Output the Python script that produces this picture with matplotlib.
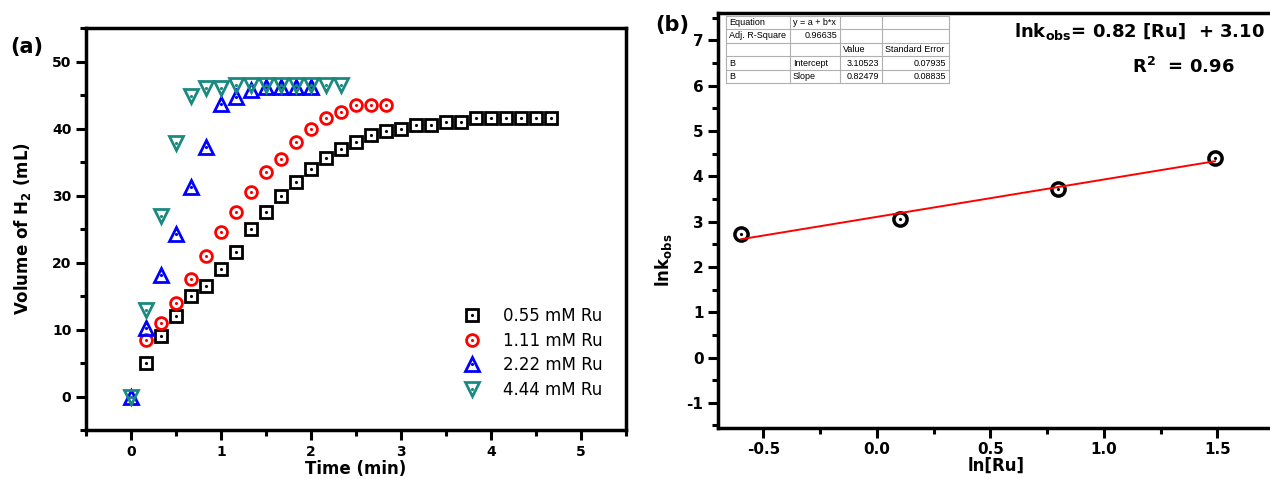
import numpy as np
import matplotlib
matplotlib.use('Agg')
import matplotlib.pyplot as plt
from matplotlib.ticker import MultipleLocator
from matplotlib.lines import Line2D

plt.rcParams['font.family'] = ['DejaVu Sans']
plt.rcParams['font.weight'] = 'bold'
plt.rcParams['axes.unicode_minus'] = False

# (a) H2 evolution, time step is 10 s
step = 1 / 6
t_055 = np.arange(1, 29) * step
v_055 = [5.0, 9.0, 12.0, 15.0, 16.5, 19.0, 21.5, 25.0, 27.5, 30.0, 32.0, 34.0, 35.6, 37.0,
         38.0, 39.0, 39.6, 40.0, 40.5, 40.5, 41.0, 41.0, 41.5, 41.5, 41.5, 41.5, 41.5, 41.5]
t_111 = np.arange(1, 18) * step
v_111 = [8.5, 11.0, 14.0, 17.5, 21.0, 24.5, 27.5, 30.5, 33.5, 35.5, 38.0, 40.0, 41.5, 42.5,
         43.5, 43.5, 43.5]
t_222 = np.arange(0, 13) * step
v_222 = [0.0, 10.2, 18.2, 24.2, 31.2, 37.2, 43.7, 44.7, 45.7, 46.2, 46.2, 46.2, 46.2]
t_444 = np.arange(0, 15) * step
v_444 = [0.0, 12.9, 26.9, 37.9, 44.9, 46.0, 46.0, 46.5, 46.5, 46.5, 46.5, 46.5, 46.5, 46.5, 46.5]

# (b) ln k_obs vs ln[Ru]
ln_ru = [-0.598, 0.104, 0.798, 1.49]
ln_k = [2.72, 3.055, 3.716, 4.405]
intercept = 3.10523
slope = 0.82479

table_rows = [
    ['Equation', 'y = a + b*x', '', ''],
    ['Adj. R-Square', '0.96635', '', ''],
    ['', '', 'Value', 'Standard Error'],
    ['B', 'Intercept', '3.10523', '0.07935'],
    ['B', 'Slope', '0.82479', '0.08835'],
]

W, H = 1270, 479
fig = plt.figure(figsize=(W / 100, H / 100), dpi=100)


def fx(px):
    return px / W


def fy(py):
    return 1 - py / H


def style_axes(ax, size):
    for s in ax.spines.values():
        s.set_linewidth(2.5)
    ax.tick_params(which='major', direction='out', length=7, width=2.2, labelsize=size)
    ax.tick_params(which='minor', direction='out', length=4, width=2.2)
    for lab in ax.get_xticklabels() + ax.get_yticklabels():
        lab.set_fontweight('bold')


# ---------- panel (a) ----------
ax1 = fig.add_axes([fx(86), fy(430), fx(626 - 86), (430 - 28) / H])
series = [
    (t_055, v_055, 's', 'black', 8, '0.55 mM Ru'),
    (t_111, v_111, 'o', 'red', 8.5, '1.11 mM Ru'),
    (t_222, v_222, '^', 'blue', 10, '2.22 mM Ru'),
    (t_444, v_444, 'v', '#1a8a80', 10, '4.44 mM Ru'),
]
handles = []
for t, v, m, c, ms, lab in series:
    h1, = ax1.plot(t, v, m, ms=ms, mfc='none', mec=c, mew=2, ls='none')
    h2, = ax1.plot(t, v, '.', ms=2.5, color=c, ls='none')
    handles.append((h1, h2))
ax1.set_xlim(-0.5, 5.5)
ax1.set_ylim(-5, 55)
ax1.xaxis.set_major_locator(MultipleLocator(1))
ax1.xaxis.set_minor_locator(MultipleLocator(0.5))
ax1.yaxis.set_major_locator(MultipleLocator(10))
ax1.yaxis.set_minor_locator(MultipleLocator(5))
style_axes(ax1, 10)
ax1.set_xlabel('Time (min)', fontsize=12, fontweight='bold')
ax1.xaxis.set_label_coords(0.5, -0.075)
ax1.set_ylabel('Volume of H$_\\mathbf{2}$ (mL)', fontsize=12, fontweight='bold', labelpad=14)
ax1.legend(handles, [s[5] for s in series], frameon=False, loc='lower right',
           bbox_to_anchor=(0.985, 0.04), labelspacing=0.4, handlelength=1.6,
           handletextpad=1.1, prop={'size': 12, 'weight': 'normal'})
fig.text(fx(10), fy(47), '(a)', fontsize=15, fontweight='bold', va='center')

# ---------- panel (b) ----------
ax2 = fig.add_axes([fx(718), fy(427.7), fx(1274 - 718), (427.7 - 13.3) / H])
ax2.plot(ln_ru, ln_k, 'o', ms=9.5, mfc='none', mec='black', mew=2.5, ls='none')
ax2.plot(ln_ru, ln_k, '.', ms=2.5, color='black', ls='none')
xfit = np.array([ln_ru[0], ln_ru[-1]])
ax2.plot(xfit, intercept + slope * xfit, color='red', lw=1.4)
ax2.set_xlim(-0.7, 1.75)
ax2.set_ylim(-1.55, 7.6)
ax2.xaxis.set_major_locator(MultipleLocator(0.5))
ax2.xaxis.set_minor_locator(MultipleLocator(0.25))
ax2.yaxis.set_major_locator(MultipleLocator(1))
ax2.yaxis.set_minor_locator(MultipleLocator(0.5))
style_axes(ax2, 11)
ax2.set_xlabel('ln[Ru]', fontsize=12, fontweight='bold')
ax2.xaxis.set_label_coords(0.5, -0.07)
ax2.set_ylabel('lnk$_\\mathbf{obs}$', fontsize=12, fontweight='bold')
ax2.yaxis.set_label_coords(-0.08, 0.405)
fig.text(fx(655), fy(25), '(b)', fontsize=15, fontweight='bold', va='center')

# fit result text
fig.text(fx(1265), fy(32), 'lnk$_\\mathbf{obs}$= 0.82 [Ru]  + 3.10', fontsize=13,
         fontweight='bold', ha='right', va='center')
fig.text(fx(1183), fy(67), 'R$^\\mathbf{2}$  = 0.96', fontsize=13, fontweight='bold',
         ha='center', va='center')

# Origin-style fit table
col_x = [726, 790, 840, 882, 949]
row_top = 15.5
row_h = 13.6
grid = '#b0b0b0'
for i in range(len(table_rows) + 1):
    yy = fy(row_top + i * row_h)
    fig.add_artist(Line2D([fx(col_x[0]), fx(col_x[-1])], [yy, yy], color=grid, lw=0.8))
for cx in col_x:
    fig.add_artist(Line2D([fx(cx), fx(cx)], [fy(row_top), fy(row_top + 5 * row_h)],
                          color=grid, lw=0.8))
right_cells = {(1, 1), (3, 2), (3, 3), (4, 2), (4, 3)}
for r, row in enumerate(table_rows):
    yc = fy(row_top + (r + 0.5) * row_h)
    for c, txt in enumerate(row):
        if not txt:
            continue
        if (r, c) in right_cells:
            fig.text(fx(col_x[c + 1] - 3), yc, txt, fontsize=6.5, ha='right', va='center',
                     fontweight='normal', family='Liberation Sans')
        else:
            fig.text(fx(col_x[c] + 3), yc, txt, fontsize=6.5, ha='left', va='center',
                     fontweight='normal', family='Liberation Sans')

fig.savefig('out.png', dpi=100)
